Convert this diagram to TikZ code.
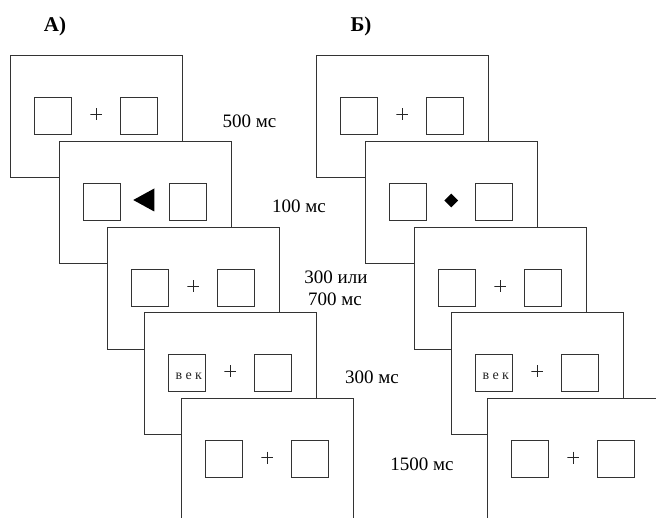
\documentclass[tikz,border=0pt]{standalone}
\usepackage{fontspec}
\setmainfont{Liberation Serif}
\usetikzlibrary{calc,shapes.geometric}
\tikzset{
  frame/.style={draw=black!80, line width=1pt, fill=white, minimum width=171.5pt, minimum height=122pt, inner sep=0pt, anchor=north west},
  sq/.style={draw=black!80, line width=0.9pt, minimum size=37pt, inner sep=0pt},
  plusmark/.style={minimum size=12pt, inner sep=0pt, path picture={\draw[line width=0.7pt, black!85] (path picture bounding box.west) -- (path picture bounding box.east) (path picture bounding box.north) -- (path picture bounding box.south);}},
  lbl/.style={font=\fontsize{19}{22}\selectfont, inner sep=0pt, anchor=base},
  head/.style={font=\fontsize{21}{24}\selectfont\bfseries, inner sep=0pt, anchor=base},
  dia/.style={diamond, fill=black, minimum size=14pt, inner sep=0pt},
  word/.style={font=\fontsize{14}{16}\selectfont, text=black!85, inner sep=0pt, anchor=base}
}
\newcommand\screenbox[3]{%
  \node[frame] (#1) at (#2,#3) {};
  \node[sq] (#1-l) at ($(#1.center)+(-43,-0.5)$) {};
  \node[sq] (#1-r) at ($(#1.center)+(43,-0.5)$) {};
}
\newcommand\plusin[1]{\node[plusmark] (#1-p) at ($(#1.center)+(0,-2)$) {};}
\begin{document}
\begin{tikzpicture}[x=1pt,y=-1pt]
\useasboundingbox (0,0) rectangle (656,518);
\clip (0,0) rectangle (656,518);
% headings
\node[head] (hA) at (55,32) {А)};
\node[head] (hB) at (361,32) {Б)};
% panel A
\screenbox{A1}{10}{55}\plusin{A1}
\screenbox{A2}{59}{141}
\coordinate (A2t) at ($(A2.center)+(-1.5,-2.5)$);
\fill[black] ($(A2t)+(-10.5,0)$) -- ($(A2t)+(10.5,-11.5)$) -- ($(A2t)+(10.5,11.5)$) -- cycle;
\screenbox{A3}{107}{227}\plusin{A3}
\screenbox{A4}{144}{312}\plusin{A4}
\node[word] (A4w) at ($(A4-l.center)+(1.5,6.5)$) {в\hspace{3.4pt}е\hspace{3.4pt}к};
\screenbox{A5}{181}{398}\plusin{A5}
% panel B
\screenbox{B1}{316}{55}\plusin{B1}
\screenbox{B2}{365}{141}
\node[dia] (B2d) at ($(B2.center)+(0,-2)$) {};
\screenbox{B3}{414}{227}\plusin{B3}
\screenbox{B4}{451}{312}\plusin{B4}
\node[word] (B4w) at ($(B4-l.center)+(1.5,6.5)$) {в\hspace{3.4pt}е\hspace{3.4pt}к};
\screenbox{B5}{487}{398}\plusin{B5}
% timing labels
\node[lbl] (t1) at (249.5,128) {500 мс};
\node[lbl] (t2) at (299,213) {100 мс};
\node[lbl] (t3a) at (336,284) {300 или};
\node[lbl] (t3b) at (335,306) {700 мс};
\node[lbl] (t4) at (372,384) {300 мс};
\node[lbl] (t5) at (422,470) {1500 мс};
\end{tikzpicture}
\end{document}
